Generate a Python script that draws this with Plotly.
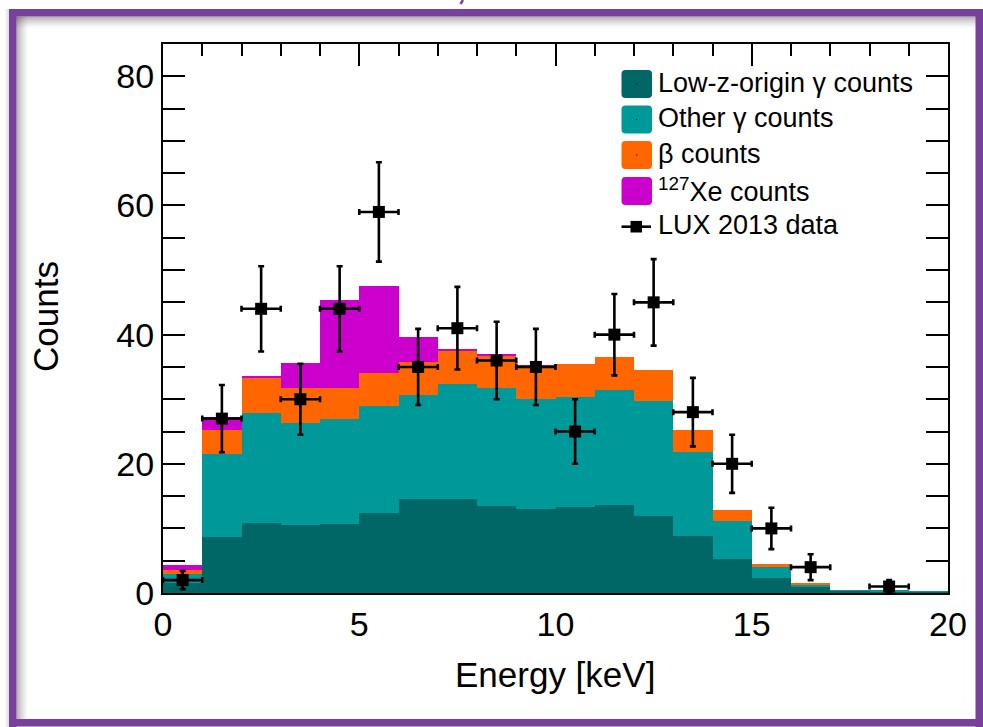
import plotly.graph_objects as go

# ---- histogram contents (1 keV bins from 0 to 20 keV) ----
bin_centers = [0.5, 1.5, 2.5, 3.5, 4.5, 5.5, 6.5, 7.5, 8.5, 9.5,
               10.5, 11.5, 12.5, 13.5, 14.5, 15.5, 16.5, 17.5, 18.5, 19.5]
lowz_gamma = [1.5, 8.7, 10.8, 10.5, 10.7, 12.4, 14.5, 14.5, 13.5, 13.0,
              13.3, 13.7, 11.9, 8.8, 5.2, 2.3, 0.9, 0.35, 0.3, 0.2]
other_gamma = [1.4, 12.8, 17.0, 15.8, 16.2, 16.6, 16.1, 17.9, 18.3, 17.0,
               17.0, 17.8, 17.9, 13.0, 5.9, 1.7, 0.45, 0.1, 0.1, 0.08]
beta = [0.7, 3.8, 5.6, 5.4, 4.8, 5.0, 5.1, 5.0, 5.0, 5.1,
        5.1, 5.1, 4.8, 3.5, 1.7, 0.5, 0.2, 0.0, 0.0, 0.0]
xe127 = [0.7, 2.0, 0.2, 3.9, 13.7, 13.5, 3.9, 0.4, 0.2, 0.05,
         0.0, 0.0, 0.0, 0.0, 0.0, 0.0, 0.0, 0.0, 0.0, 0.0]

# ---- LUX 2013 data points (empty bins are not drawn) ----
data_x = [0.5, 1.5, 2.5, 3.5, 4.5, 5.5, 6.5, 7.5, 8.5, 9.5,
          10.5, 11.5, 12.5, 13.5, 14.5, 15.5, 16.5, 18.5]
data_y = [2, 27, 44, 30, 44, 59, 35, 41, 36, 35,
          25, 40, 45, 28, 20, 10, 4, 1]
data_err = [1.4, 5.2, 6.6, 5.5, 6.6, 7.7, 5.9, 6.4, 6.0, 5.9,
            5.0, 6.3, 6.7, 5.3, 4.5, 3.2, 2.0, 1.0]
data_xerr = [0.5] * len(data_x)

y_ticks = [0, 20, 40, 60, 80]
x_ticks = [0, 5, 10, 15, 20]

series_names = ["Low-z-origin γ counts", "Other γ counts", "β counts",
                "<sup>127</sup>Xe counts"]
series_colors = ["#006666", "#009999", "#ff6600", "#cc00cc"]

W, H = 983, 727
FONT = "Liberation Sans, Arial, Helvetica, sans-serif"
PURPLE = "#7a3f9b"


def px(x):
    return x / W


def py(y):
    return 1 - y / H


fig = go.Figure()

for name, vals, col in zip(series_names,
                           [lowz_gamma, other_gamma, beta, xe127],
                           series_colors):
    fig.add_trace(go.Bar(
        x=bin_centers, y=vals, width=1.0, name=name,
        marker=dict(color=col, line=dict(width=0)),
        showlegend=False,
    ))

fig.add_trace(go.Scatter(
    x=data_x, y=data_y, mode="markers", name="LUX 2013 data",
    marker=dict(symbol="square", size=12, color="black"),
    error_y=dict(type="data", array=data_err, color="black",
                 thickness=2.6, width=3),
    error_x=dict(type="data", array=data_xerr, color="black",
                 thickness=2.6, width=3),
    showlegend=False,
))

# invisible trace carrying the top tick axis
fig.add_trace(go.Scatter(x=[0], y=[0], xaxis="x2", mode="markers",
                         marker=dict(opacity=0), showlegend=False,
                         hoverinfo="skip"))

x_dom = [px(163), px(948)]
y_dom = [py(593), py(44)]

fig.update_layout(
    template="none",
    width=W, height=H, autosize=False,
    margin=dict(l=0, r=0, t=0, b=0, pad=0, autoexpand=False),
    paper_bgcolor="white", plot_bgcolor="white",
    barmode="stack", bargap=0, showlegend=False,
    font=dict(family=FONT, color="black"),
    xaxis=dict(
        domain=x_dom, range=[0, 20], tickvals=x_ticks, automargin=False,
        ticks="", showline=True, linecolor="black", linewidth=2,
        mirror=True, showgrid=False, zeroline=False,
        tickfont=dict(size=34, family=FONT, color="black"),
    ),
    xaxis2=dict(
        overlaying="x", anchor="y", side="top", range=[0, 20],
        automargin=False,
        tickvals=x_ticks, ticks="inside", ticklen=22, tickwidth=1.5,
        tickcolor="black", showticklabels=False, showgrid=False,
        zeroline=False, showline=False,
        minor=dict(dtick=1, ticks="inside", ticklen=12, tickwidth=1.5,
                   tickcolor="black", showgrid=False),
    ),
    yaxis=dict(
        domain=y_dom, range=[0, 85], tickvals=y_ticks, automargin=False,
        ticks="inside", ticklen=22, tickwidth=1.5, tickcolor="black",
        showline=True, linecolor="black", linewidth=2, mirror="allticks",
        showgrid=False, zeroline=False,
        tickfont=dict(size=34, family=FONT, color="black"),
        minor=dict(dtick=5, ticks="inside", ticklen=12, tickwidth=1.5,
                   tickcolor="black", showgrid=False),
    ),
)

shapes = []
annotations = []

# slide frame: purple border with a soft inner shadow
for i in range(12):
    op = 0.32 * (1 - i / 12) ** 1.5
    shapes.append(dict(type="rect", xref="paper", yref="paper",
                       x0=px(16), x1=px(976), y0=py(16.5 + i), y1=py(17.5 + i),
                       fillcolor="black", opacity=op, line=dict(width=0),
                       layer="below"))
    shapes.append(dict(type="rect", xref="paper", yref="paper",
                       x0=px(16.5 + i), x1=px(17.5 + i), y0=py(719), y1=py(16.5),
                       fillcolor="black", opacity=op, line=dict(width=0),
                       layer="below"))
for i in range(4):
    op = 0.12 * (1 - i / 4)
    shapes.append(dict(type="rect", xref="paper", yref="paper",
                       x0=px(8 - i), x1=px(9 - i), y0=py(727), y1=py(9),
                       fillcolor="black", opacity=op, line=dict(width=0)))
frame_rects = [
    (9, 9, 983, 16.5),      # top
    (9, 9, 16.5, 727),      # left
    (9, 719, 983, 726.5),   # bottom
    (975.5, 9, 983, 727),   # right
]
for x0, y0, x1, y1 in frame_rects:
    shapes.append(dict(type="rect", xref="paper", yref="paper",
                       x0=px(x0), x1=px(x1), y0=py(y1), y1=py(y0),
                       fillcolor=PURPLE, line=dict(width=0)))
# fragment of the slide title above the frame
shapes.append(dict(type="line", xref="paper", yref="paper",
                   x0=px(463), y0=py(0), x1=px(460.5), y1=py(4),
                   line=dict(color=PURPLE, width=2.5)))


def rounded_box(x0, y0, x1, y1, r):
    pts = [("M", x0 + r, y0), ("L", x1 - r, y0), ("Q", x1, y0), ("", x1, y0 + r),
           ("L", x1, y1 - r), ("Q", x1, y1), ("", x1 - r, y1),
           ("L", x0 + r, y1), ("Q", x0, y1), ("", x0, y1 - r),
           ("L", x0, y0 + r), ("Q", x0, y0), ("", x0 + r, y0)]
    parts = []
    for cmd, a, b in pts:
        coord = f"{px(a):.6f},{py(b):.6f}"
        parts.append(f"{cmd} {coord}" if cmd else coord)
    return " ".join(parts) + " Z"


# legend
row_y = [84, 119.5, 155, 191, 226.7]
box_x0, box_x1 = 621.5, 652
text_x = 656
for yc, name, col in zip(row_y[:4], series_names, series_colors):
    shapes.append(dict(type="path", xref="paper", yref="paper",
                       path=rounded_box(box_x0, yc - 14, box_x1, yc + 14, 4),
                       fillcolor=col, line=dict(width=0)))
    cx = (box_x0 + box_x1) / 2
    shapes.append(dict(type="rect", xref="paper", yref="paper",
                       x0=px(cx - 0.6), x1=px(cx + 0.6),
                       y0=py(yc + 0.6), y1=py(yc - 0.6),
                       fillcolor="black", line=dict(width=0)))
    annotations.append(dict(xref="paper", yref="paper", x=px(text_x),
                            y=py(yc - 1.5), xanchor="left", yanchor="middle",
                            text=name, showarrow=False,
                            font=dict(size=27, family=FONT, color="black")))

# data entry of the legend
yc = row_y[4]
shapes.append(dict(type="line", xref="paper", yref="paper",
                   x0=px(621.5), x1=px(651), y0=py(yc), y1=py(yc),
                   line=dict(color="black", width=2.6)))
shapes.append(dict(type="rect", xref="paper", yref="paper",
                   x0=px(630.5), x1=px(642), y0=py(yc + 5.8), y1=py(yc - 5.8),
                   fillcolor="black", line=dict(width=0)))
annotations.append(dict(xref="paper", yref="paper", x=px(text_x),
                        y=py(yc - 1.5), xanchor="left", yanchor="middle",
                        text="LUX 2013 data", showarrow=False,
                        font=dict(size=27, family=FONT, color="black")))

# axis titles
annotations.append(dict(xref="paper", yref="paper", x=px(45), y=py(317),
                        text="Counts", textangle=-90, showarrow=False,
                        xanchor="center", yanchor="middle",
                        font=dict(size=35, family=FONT, color="black")))
annotations.append(dict(xref="paper", yref="paper", x=px(555), y=py(674),
                        text="Energy [keV]", showarrow=False,
                        xanchor="center", yanchor="middle",
                        font=dict(size=35, family=FONT, color="black")))

fig.update_layout(shapes=shapes, annotations=annotations)

fig.write_html("out.html")
